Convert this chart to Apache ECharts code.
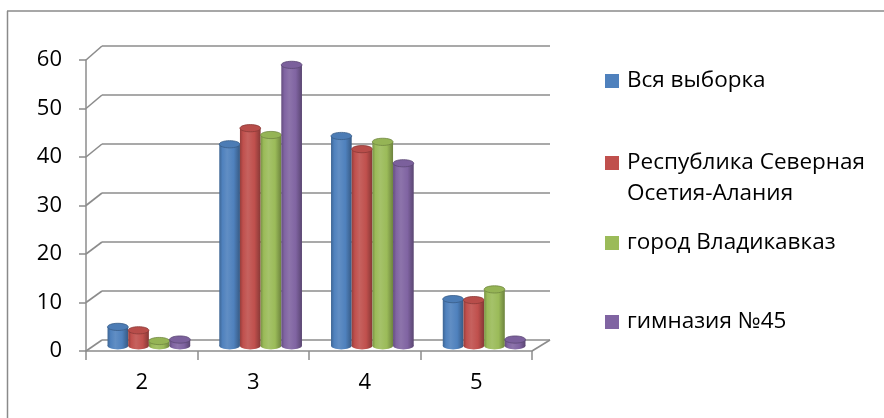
<!DOCTYPE html>
<html><head><meta charset="utf-8">
<script src="https://cdn.jsdelivr.net/npm/echarts@6/dist/echarts.min.js"></script>
<style>html,body{margin:0;padding:0;background:#fff}#c{width:884px;height:418px}</style>
</head><body><div id="c"></div>
<script>
// ---- data ----
const categories = ['2', '3', '4', '5'];
const seriesNames = ['Вся выборка', 'Республика Северная Осетия-Алания', 'город Владикавказ', 'гимназия №45'];
const vseVyborka = [4.5, 42.0, 43.7, 10.2];
const respublika = [3.8, 45.3, 41.0, 10.0];
const gorodVladikavkaz = [1.6, 43.9, 42.5, 12.2];
const gimnaziya45 = [1.9, 58.3, 38.1, 1.9];
const yTicks = [0, 10, 20, 30, 40, 50, 60];

// ---- style / layout ----
const seriesData = [vseVyborka, respublika, gorodVladikavkaz, gimnaziya45];
const colors = ['#4F81BD', '#C0504D', '#9BBB59', '#8064A2'];
const FONT = 'Open Sans';
const FS_AXIS = 22;
const FS_LEG = 22.5;
const W = 884, H = 418;
const G_FRONT = {left: 86, right: W - 532, top: 60, bottom: H - 351};
const G_BACK = {left: 102, right: W - 550, top: 46, bottom: H - 340};
const G_BAR = {left: 93, right: W - 540, top: 56.6, bottom: H - 348.8};
const gridColor = '#8c8c8c';

function mix(hex, t) { // t<0 darken, t>0 lighten
  const n = parseInt(hex.slice(1), 16);
  let r = (n >> 16) & 255, g = (n >> 8) & 255, b = n & 255;
  const f = c => t < 0 ? Math.round(c * (1 + t)) : Math.round(c + (255 - c) * t);
  return 'rgb(' + f(r) + ',' + f(g) + ',' + f(b) + ')';
}

function makeCylinder(si) {
  const base = colors[si];
  return {
    type: 'custom',
    name: seriesNames[si],
    xAxisIndex: 2, yAxisIndex: 2,
    itemStyle: {color: base},
    encode: {x: 0, y: 1},
    data: seriesData[si].map((v, k) => [k, v]),
    renderItem: function (params, api) {
      const cat = api.value(0), val = api.value(1);
      const top = api.coord([cat, val]);
      const zero = api.coord([cat, 0]);
      const band = api.size([1, 0])[0];
      const bw = band * 0.185;
      const cx = top[0] + (si - 1.5) * bw;
      const ry = 3.6;
      const yb = zero[1] - 3;
      const grad = new echarts.graphic.LinearGradient(0, 0, 1, 0, [
        {offset: 0, color: mix(base, -0.22)},
        {offset: 0.15, color: mix(base, 0.0)},
        {offset: 0.38, color: mix(base, 0.1)},
        {offset: 0.7, color: base},
        {offset: 1, color: mix(base, -0.3)}
      ]);
      return {
        type: 'group',
        children: [
          {type: 'ellipse', shape: {cx: cx, cy: yb, rx: bw / 2, ry: ry}, style: {fill: grad}},
          {type: 'rect', shape: {x: cx - bw / 2, y: top[1], width: bw, height: Math.max(0, yb - top[1])}, style: {fill: grad}},
          {type: 'ellipse', shape: {cx: cx, cy: top[1], rx: bw / 2, ry: ry},
            style: {fill: mix(base, -0.04), stroke: mix(base, -0.28), lineWidth: 0.8}}
        ]
      };
    }
  };
}

const legendCenters = [81, 163, 243, 322];
const LH = 31;
const legends = seriesNames.map((nm, i) => ({
  data: [nm],
  left: 605,
  top: i === 1 ? legendCenters[i] - 1.5 * LH : legendCenters[i] - LH / 2,
  orient: 'vertical',
  padding: 0,
  icon: 'rect',
  itemWidth: 14, itemHeight: 14, itemGap: 8,
  selectedMode: false,
  textStyle: {fontFamily: FONT, fontSize: FS_LEG, color: '#000', lineHeight: LH, padding: [0, 0, 0, 3]},
  formatter: function (name) {
    return name === seriesNames[1] ? '\u00a0\nРеспублика Северная\nОсетия-Алания' : name;
  }
}));

const chart = echarts.init(document.getElementById('c'), null, {renderer: 'canvas'});
chart.setOption({
  animation: false,
  backgroundColor: '#fff',
  legend: legends,
  grid: [
    Object.assign({containLabel: false}, G_FRONT),
    Object.assign({containLabel: false}, G_BACK),
    Object.assign({containLabel: false}, G_BAR)
  ],
  xAxis: [
    {gridIndex: 0, type: 'category', data: categories, boundaryGap: true,
      axisLine: {show: true, lineStyle: {color: gridColor, width: 1.5}},
      axisTick: {show: true, alignWithLabel: false, interval: 0, length: 9, lineStyle: {color: gridColor, width: 1.5}},
      axisLabel: {margin: 21, fontFamily: FONT, fontSize: FS_AXIS, color: '#000'},
      splitLine: {show: false}},
    {gridIndex: 1, type: 'category', data: categories, show: false},
    {gridIndex: 2, type: 'category', data: categories, show: false}
  ],
  yAxis: [
    {gridIndex: 0, type: 'value', min: 0, max: 60, interval: 10,
      axisLine: {show: true, lineStyle: {color: gridColor, width: 1.5}},
      axisTick: {show: true, length: 7, lineStyle: {color: gridColor, width: 1.5}},
      axisLabel: {margin: 24, fontFamily: FONT, fontSize: FS_AXIS, color: '#000'},
      splitLine: {show: false}},
    {gridIndex: 1, type: 'value', min: 0, max: 60, interval: 10,
      axisLine: {show: false}, axisTick: {show: false}, axisLabel: {show: false},
      splitLine: {show: true, lineStyle: {color: gridColor, width: 1.6}}},
    {gridIndex: 2, type: 'value', min: 0, max: 60, interval: 10, show: false, splitLine: {show: false}}
  ],
  series: [0, 1, 2, 3].map(makeCylinder)
});

// perspective connectors & chart frame
const gfx = [];
yTicks.forEach(v => {
  const yf = chart.convertToPixel({yAxisIndex: 0}, v);
  const yb = chart.convertToPixel({yAxisIndex: 1}, v);
  gfx.push({type: 'line', shape: {x1: G_FRONT.left, y1: yf, x2: G_BACK.left, y2: yb},
    style: {stroke: gridColor, lineWidth: 1.6}, z: 1});
});
{
  const yf = chart.convertToPixel({yAxisIndex: 0}, 0);
  const yb = chart.convertToPixel({yAxisIndex: 1}, 0);
  gfx.push({type: 'line', shape: {x1: W - G_FRONT.right, y1: yf, x2: W - G_BACK.right, y2: yb},
    style: {stroke: gridColor, lineWidth: 1.6}, z: 1});
}
gfx.push({type: 'line', shape: {x1: 7.5, y1: 11, x2: 7.5, y2: H}, style: {stroke: '#8a8a8a', lineWidth: 1.5}});
gfx.push({type: 'line', shape: {x1: 7, y1: 11, x2: W, y2: 11}, style: {stroke: '#8a8a8a', lineWidth: 1.5}});
chart.setOption({graphic: {elements: gfx}});
</script>
</body></html>
